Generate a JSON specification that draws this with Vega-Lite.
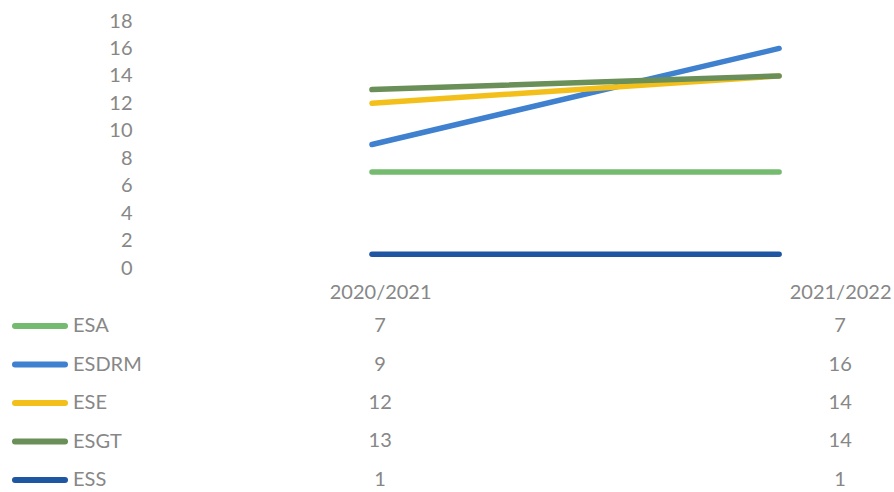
{
  "$schema": "https://vega.github.io/schema/vega-lite/v6.json",
  "background": "white",
  "padding": {"left": 12, "top": 11, "right": 0, "bottom": 0},
  "config": {
    "view": {"stroke": null},
    "font": "Lato",
    "axis": {"labelColor": "#878787", "labelFontSize": 20, "domain": false, "ticks": false, "grid": false, "title": null},
    "legend": {"labelColor": "#878787", "labelFontSize": 20}
  },
  "data": {"values": [
    {"series": "ESA", "year": "2020/2021", "value": 7},
    {"series": "ESA", "year": "2021/2022", "value": 7},
    {"series": "ESDRM", "year": "2020/2021", "value": 9},
    {"series": "ESDRM", "year": "2021/2022", "value": 16},
    {"series": "ESE", "year": "2020/2021", "value": 12},
    {"series": "ESE", "year": "2021/2022", "value": 14},
    {"series": "ESGT", "year": "2020/2021", "value": 13},
    {"series": "ESGT", "year": "2021/2022", "value": 14},
    {"series": "ESS", "year": "2020/2021", "value": 1},
    {"series": "ESS", "year": "2021/2022", "value": 1}
  ]},
  "spacing": 4,
  "resolve": {"legend": {"color": "independent"}},
  "vconcat": [
    {
      "width": 754,
      "height": 247,
      "mark": {"type": "line", "strokeWidth": 5.5, "strokeCap": "round"},
      "encoding": {
        "x": {"field": "year", "type": "ordinal", "scale": {"type": "point", "padding": 0.426, "align": 0.663}, "axis": null},
        "y": {"field": "value", "type": "quantitative", "scale": {"domain": [0, 18], "nice": false}, "axis": {"values": [0, 2, 4, 6, 8, 10, 12, 14, 16, 18], "labelPadding": 10}},
        "color": {"field": "series", "type": "nominal",
          "scale": {"domain": ["ESA", "ESDRM", "ESE", "ESGT", "ESS"], "range": ["#74ba6f", "#3f80cf", "#f3c01b", "#6a8f58", "#1f56a2"]},
          "legend": null}
      }
    },
    {
      "width": 754,
      "height": 180,
      "encoding": {
        "x": {"field": "year", "type": "ordinal", "scale": {"type": "point", "padding": 0.3196, "align": 0.81}, "axis": {"orient": "top", "labelPadding": 11, "labelAngle": 0}},
        "y": {"field": "series", "type": "nominal", "scale": {"type": "point", "padding": 0.338}, "axis": null}
      },
      "layer": [
        {
          "mark": {"type": "line", "opacity": 0},
          "encoding": {
            "color": {"field": "series", "type": "nominal",
              "scale": {"domain": ["ESA", "ESDRM", "ESE", "ESGT", "ESS"], "range": ["#74ba6f", "#3f80cf", "#f3c01b", "#6a8f58", "#1f56a2"]},
              "legend": {"title": null, "orient": "left", "offset": 0, "padding": 0, "symbolType": "stroke", "symbolSize": 2500, "symbolStrokeWidth": 6, "symbolOpacity": 1, "labelOffset": 5, "clipHeight": 26, "rowPadding": 12.5,
                "encode": {"symbols": {"update": {"strokeCap": {"value": "round"}}}}}
            }
          }
        },
        {
          "mark": {"type": "text", "fontSize": 20, "color": "#878787"},
          "encoding": {"text": {"field": "value", "type": "quantitative"}}
        }
      ]
    }
  ]
}
